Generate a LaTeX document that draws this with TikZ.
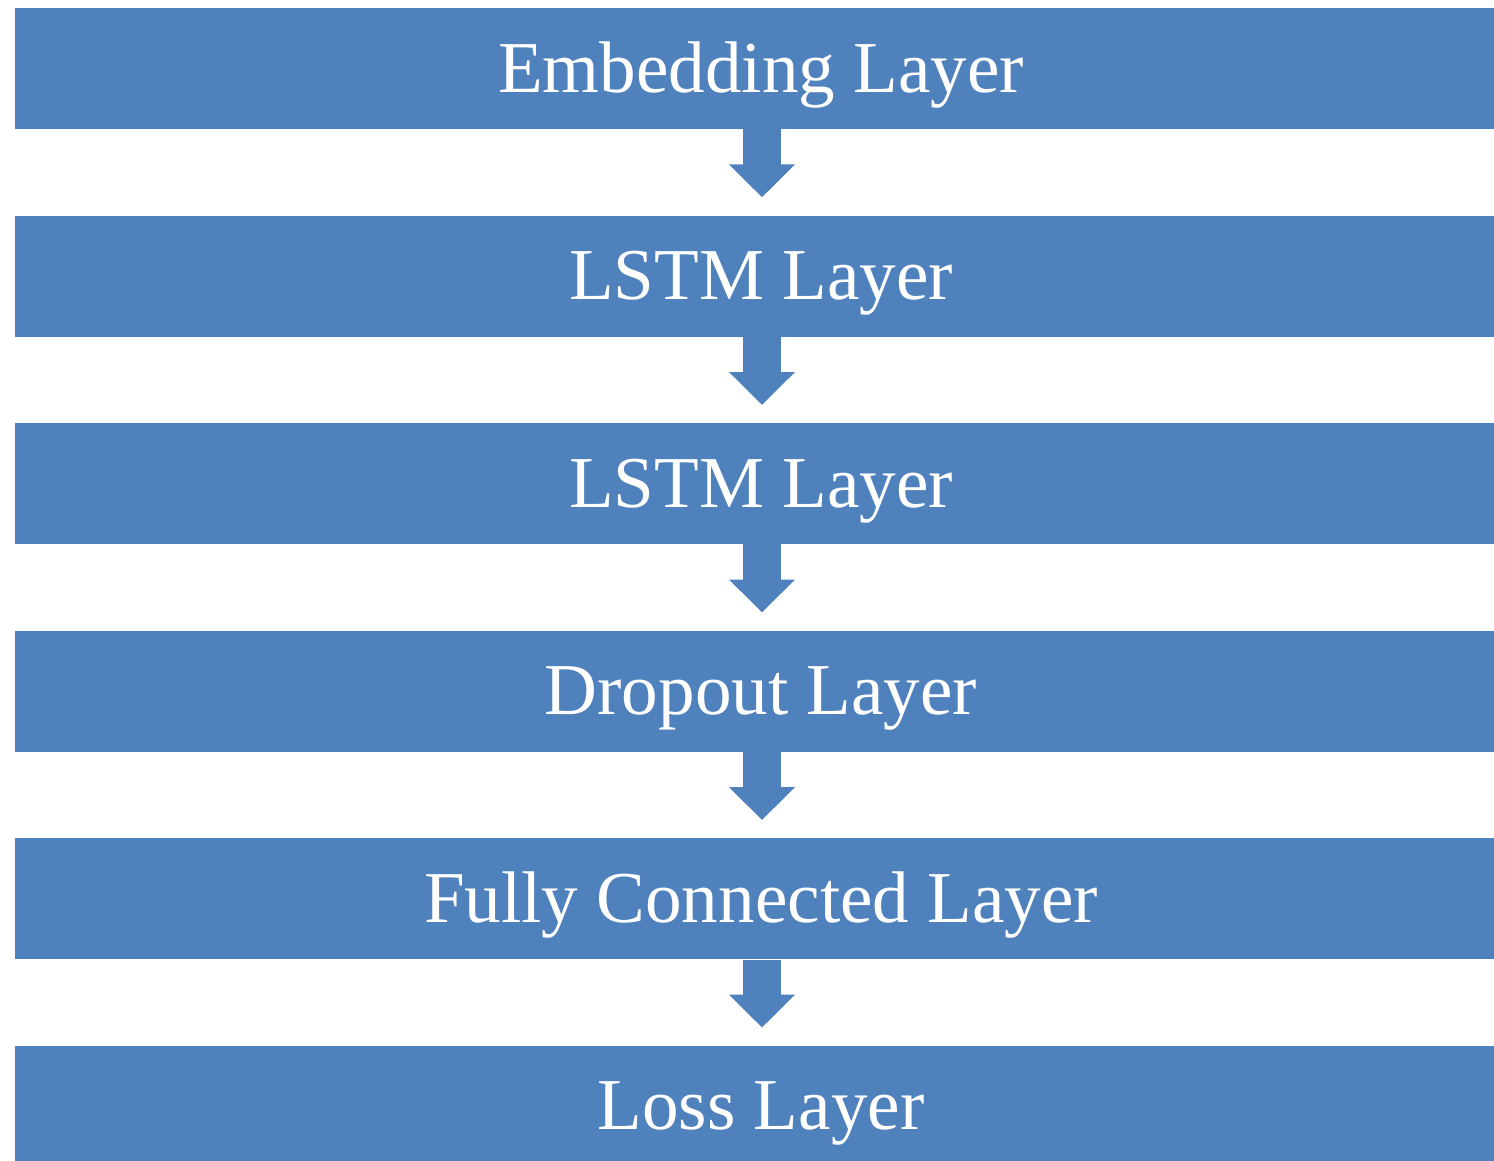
\documentclass[tikz,border=0pt]{standalone}
\usepackage{fontspec}
\setmainfont{Liberation Serif}
\usetikzlibrary{positioning,arrows.meta}
\definecolor{layerblue}{HTML}{4F81BD}
\tikzset{
    LY/.style ={rectangle, fill=layerblue, text=white, minimum width=37.3cm, minimum height=3.025cm,
                inner sep=0pt, text height=1.175cm, text depth=0pt, font=\fontsize{52}{60}\selectfont},
    FL/.style ={draw=layerblue, line width=0.95cm, -{Triangle[width=1.6cm,length=0.82cm]}, layerblue}}

\begin{document}
\begin{tikzpicture}[node distance=2.15cm]
        \useasboundingbox (0,0) rectangle (37.35,-29);
        \clip (0,0) rectangle (37.35,-29);
        \node[LY] (1) at(19.025,-1.7125){Embedding Layer};
        \node[LY] (2) [below=of 1]{LSTM Layer};
        \node[LY] (3) [below=of 2]{LSTM Layer};
        \node[LY] (4) [below=of 3]{Dropout Layer};
        \node[LY] (5) [below=of 4]{Fully Connected Layer};
        \node[LY] (6) [below=of 5]{Loss Layer};
        \draw[FL] ([xshift=0.025cm]1.south) -- ([xshift=0.025cm,yshift=0.45cm]2.north);
        \draw[FL] ([xshift=0.025cm]2.south) -- ([xshift=0.025cm,yshift=0.45cm]3.north);
        \draw[FL] ([xshift=0.025cm]3.south) -- ([xshift=0.025cm,yshift=0.45cm]4.north);
        \draw[FL] ([xshift=0.025cm]4.south) -- ([xshift=0.025cm,yshift=0.45cm]5.north);
        \draw[FL] ([xshift=0.025cm]5.south) -- ([xshift=0.025cm,yshift=0.45cm]6.north);
    \end{tikzpicture}
\end{document}
